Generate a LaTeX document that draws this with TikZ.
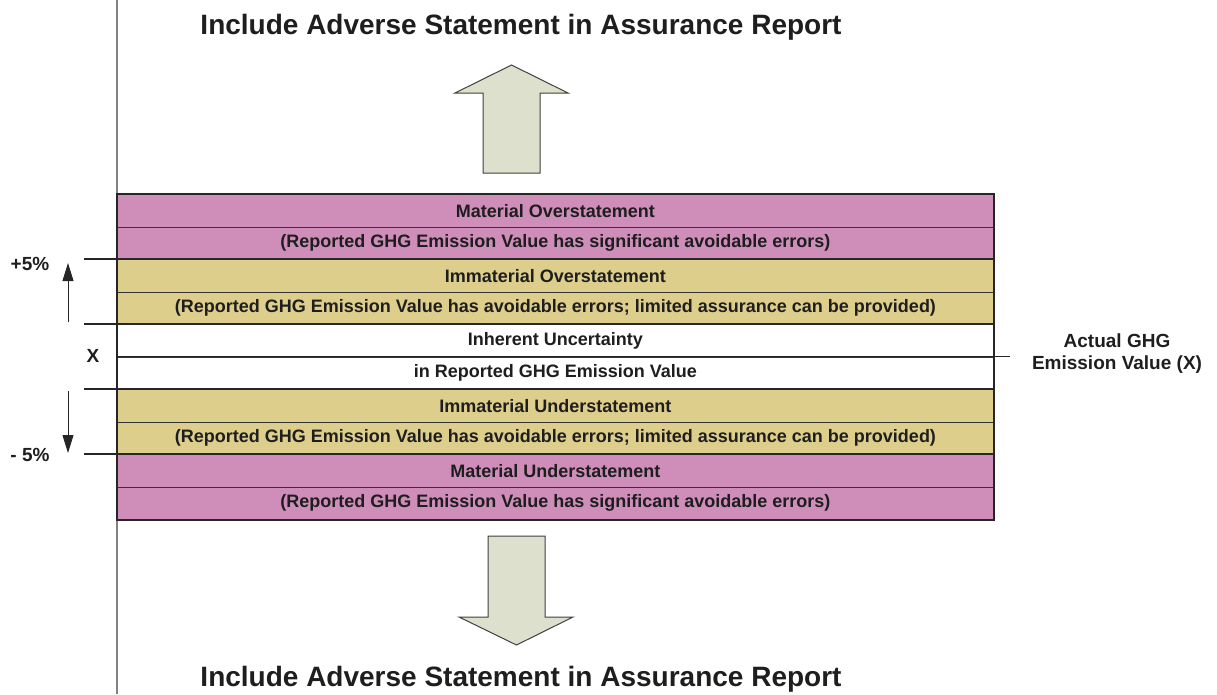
\documentclass[tikz,border=0pt]{standalone}
\usepackage{fontspec}
\setmainfont{Liberation Sans}
\usetikzlibrary{arrows.meta}
\definecolor{pinkband}{RGB}{207,142,186}
\definecolor{yellowband}{RGB}{222,206,140}
\definecolor{arrowfill}{RGB}{221,224,204}
\definecolor{txt}{RGB}{30,30,30}
\definecolor{axisgray}{RGB}{130,130,130}
\begin{document}
\begin{tikzpicture}[x=1pt,y=-1pt,
  row/.style={draw=black!80,line width=0.8pt,minimum width=876pt,minimum height=32.5pt,inner sep=0pt,anchor=north west,font=\bfseries\fontsize{18}{20}\selectfont,text=txt},
  pinkrow/.style={row,fill=pinkband},
  yellowrow/.style={row,fill=yellowband},
  whiterow/.style={row,fill=white},
  bound/.style={line width=1.6pt,black!85},
  blockarrow/.style={draw=black!75,line width=1pt,fill=arrowfill,line join=miter},
  title/.style={font=\bfseries\fontsize{28}{32}\selectfont,text=txt},
  sidelabel/.style={font=\bfseries\fontsize{19}{22}\selectfont,text=txt},
  smallarrow/.style={line width=0.9pt,black!85,-{Triangle[length=18pt,width=11pt]}}]
\useasboundingbox (0,0) rectangle (1217,694);
% vertical axis
\draw[axisgray,line width=1.6pt] (117,0) -- (117,694);
% titles
\node[title] (ttop) at (521,27) {Include Adverse Statement in Assurance Report};
\node[title] (tbot) at (521,679) {Include Adverse Statement in Assurance Report};
% block arrows
\draw[blockarrow] (483,173) -- (483,93) -- (455,93) -- (511.5,65) -- (568,93) -- (540,93) -- (540,173) -- cycle;
\draw[blockarrow] (488,536) -- (488,617) -- (459,617) -- (516.5,645) -- (573,617) -- (545,617) -- (545,536) -- cycle;
% rows
\node[pinkrow] (r0) at (117,194) {Material Overstatement};
\node[pinkrow] (r1) at (117,226.5) {(Reported GHG Emission Value has significant avoidable errors)};
\node[yellowrow] (r2) at (117,259) {Immaterial Overstatement};
\node[yellowrow] (r3) at (117,291.5) {(Reported GHG Emission Value has avoidable errors; limited assurance can be provided)};
\node[whiterow] (r4) at (117,324) {Inherent Uncertainty};
\node[whiterow] (r5) at (117,356.5) {in Reported GHG Emission Value};
\node[yellowrow] (r6) at (117,389) {Immaterial Understatement};
\node[yellowrow] (r7) at (117,421.5) {(Reported GHG Emission Value has avoidable errors; limited assurance can be provided)};
\node[pinkrow] (r8) at (117,454) {Material Understatement};
\node[pinkrow] (r9) at (117,486.5) {(Reported GHG Emission Value has significant avoidable errors)};
% band boundaries, extended to the left
\coordinate (b1) at (84,259);
\coordinate (b2) at (84,324);
\coordinate (b3) at (84,389);
\coordinate (b4) at (84,454);
\draw[bound] (b1) -- (r2.north east);
\draw[bound] (b2) -- (r4.north east);
\draw[bound] (b3) -- (r6.north east);
\draw[bound] (b4) -- (r8.north east);
\draw[bound] (r0.north west) rectangle (r9.south east);
% actual value line
\coordinate (xend) at (1010,356.5);
\draw[black!85,line width=0.9pt] (r5.north west) -- (xend);
% side labels
\node[sidelabel] (plus) at (30,264) {+5\%};
\node[sidelabel] (xl) at (93,356) {X};
\node[sidelabel] (minus) at (30,455) {- 5\%};
\node[sidelabel,align=center] (actual) at (1117,354) {Actual GHG\\Emission Value (X)};
% small arrows
\coordinate (ua0) at (68,322);
\coordinate (ua1) at (68,263);
\coordinate (da0) at (68,391);
\coordinate (da1) at (68,453);
\draw[smallarrow] (ua0) -- (ua1);
\draw[smallarrow] (da0) -- (da1);
\end{tikzpicture}
\end{document}
